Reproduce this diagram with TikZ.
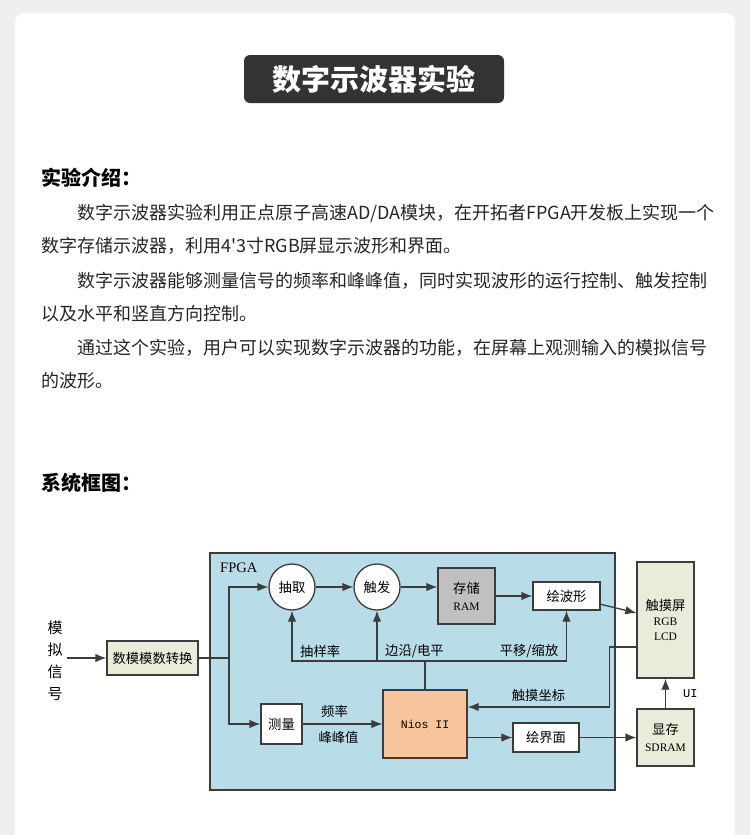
\documentclass[tikz,border=0pt]{standalone}
\usepackage{fontspec}
\setmainfont{Liberation Serif}
\newfontfamily\cjk{Noto Sans CJK SC}
\newfontfamily\nios{Liberation Mono}
\usetikzlibrary{positioning, arrows.meta, calc}
\tikzset{>={Latex[length=11pt,width=8.5pt]}}
\definecolor{pagegray}{HTML}{EFEFEF}
\definecolor{titlegray}{HTML}{333333}
\definecolor{fpgablue}{HTML}{B9DDE8}
\definecolor{beige}{HTML}{E8EDDA}
\definecolor{peach}{HTML}{F8C49B}
\definecolor{ramgray}{HTML}{C0C0C0}
\definecolor{wire}{HTML}{3C3C3C}

\begin{document}
\begin{tikzpicture}[
    x=1pt, y=-1pt,
    block/.style={draw=wire, line width=1.3pt, align=center, inner sep=0pt,
                  font=\cjk\fontsize{13.3}{17}\selectfont},
    proc/.style={block, circle, fill=white, minimum size=46pt},
    flow/.style={->, line width=1.3pt, draw=wire},
    lbl/.style={font=\cjk\fontsize{13.3}{16}\selectfont, inner sep=1pt},
    para/.style={anchor=west, inner sep=0pt, text=black!85,
                 font=\cjk\fontsize{18}{22}\selectfont},
    head/.style={anchor=west, inner sep=0pt, font=\cjk\bfseries\fontsize{20}{24}\selectfont},
  ]
  \clip (0,0) rectangle (750,835);
  \useasboundingbox (0,0) rectangle (750,835);
  \fill[pagegray] (0,0) rectangle (750,835);
  \fill[white, rounded corners=9pt] (15,13) rectangle (735,860);

  \node[fill=titlegray, rounded corners=6pt, minimum width=260pt, minimum height=48pt,
        text=white, font=\cjk\bfseries\fontsize{29}{32}\selectfont] (title) at (374,79) {数字示波器实验};

  \node[head] (intro) at (41,178) {实验介绍：};
  \node[para] (p1) at (77,213) {数字示波器实验利用正点原子高速AD/DA模块，在开拓者FPGA开发板上实现一个};
  \node[para] (p2) at (41,246) {数字存储示波器，利用4'3寸RGB屏显示波形和界面。};
  \node[para] (p3) at (77,281) {数字示波器能够测量信号的频率和峰峰值，同时实现波形的运行控制、触发控制};
  \node[para] (p4) at (41,314) {以及水平和竖直方向控制。};
  \node[para] (p5) at (77,348) {通过这个实验，用户可以实现数字示波器的功能，在屏幕上观测输入的模拟信号};
  \node[para] (p6) at (41,381) {的波形。};
  \node[head] (sys) at (41,483) {系统框图：};

  \node[block, fill=fpgablue, minimum width=405pt, minimum height=237pt] (fpga) at (412.5,671.5) {};
  \node[inner sep=0pt, anchor=west, font=\fontsize{14.5}{16}\selectfont] (fpgalbl) at (220,568) {FPGA};

  \node[font=\cjk\fontsize{15}{22}\selectfont, align=center, inner sep=4pt] (sig) at (55,661) {模\\拟\\信\\号};
  \node[block, fill=beige, minimum width=91pt, minimum height=34pt] (adc) at (152.5,658) {数模模数转换};
  \coordinate (split) at (229,658);
  \node[proc] (cq) at (292,587) {抽取};
  \node[proc] (cf) at (377,587) {触发};
  \node[block, fill=ramgray, minimum width=57pt, minimum height=56pt] (ram) at (466.5,596)
       {存储\\{\rmfamily\fontsize{11.5}{13}\selectfont RAM}};
  \node[block, fill=white, minimum width=67pt, minimum height=28pt] (wave) at (566.5,596) {绘波形};
  \node[block, fill=beige, minimum width=57pt, minimum height=116pt,
        font=\cjk\fontsize{13.3}{15}\selectfont] (lcd) at (665.5,620)
       {触摸屏\\{\rmfamily\fontsize{11.5}{15}\selectfont RGB}\\{\rmfamily\fontsize{11.5}{15}\selectfont LCD}};
  \node[block, fill=beige, minimum width=57pt, minimum height=57pt] (mem) at (665.5,737.5)
       {显存\\{\rmfamily\fontsize{11.5}{15}\selectfont SDRAM}};
  \node[block, fill=peach, minimum width=84pt, minimum height=68pt,
        font=\nios\fontsize{11.5}{13}\selectfont] (nios) at (425,724) {Nios II};
  \node[block, fill=white, minimum width=41pt, minimum height=40pt] (meas) at (281.5,724) {测量};
  \node[block, fill=white, minimum width=66pt, minimum height=29pt] (ui) at (546,737.5) {绘界面};
  \coordinate (bus) at (425,661);

  \draw[flow] (sig.east |- adc) -- (adc);
  \draw[flow, -] (adc) -- (split);
  \draw[flow] (split) |- (cq);
  \draw[flow] (split) |- (meas);
  \draw[flow] (cq) -- (cf);
  \draw[flow] (cf) -- (cf -| ram.west);
  \draw[flow] (ram) -- (wave);
  \draw[flow] (wave) -- (lcd);
  \draw[flow] (meas) -- node[lbl, above=5pt, pos=0.4] {频率} node[lbl, below=6pt, pos=0.45] {峰峰值} (nios);
  \draw[flow, -] (nios) -- (bus);
  \draw[flow] (bus) -| (cq);
  \draw[flow] (bus) -| (cf);
  \draw[flow] (bus) -| (wave);
  \node[lbl, anchor=south west] (rate) at ($(cq |- bus)+(7,-2)$) {抽样率};
  \node[lbl, anchor=south west] (edge) at ($(cf |- bus)+(7,-2)$) {边沿/电平};
  \node[lbl, anchor=south east] (shift) at ($(wave |- bus)+(-7,-2)$) {平移/缩放};
  \draw[flow] ([yshift=-27pt]lcd.west) -- ++(-27,0) |- node[lbl, above=4pt, pos=0.75] {触摸坐标} ([yshift=17pt]nios.east);
  \draw[flow] (nios.east |- ui) -- (ui);
  \draw[flow] (ui) -- (mem);
  \draw[flow] (mem) -- node[right=16pt, inner sep=1pt, font=\nios\fontsize{12}{14}\selectfont] {UI} (lcd);
\end{tikzpicture}
\end{document}
